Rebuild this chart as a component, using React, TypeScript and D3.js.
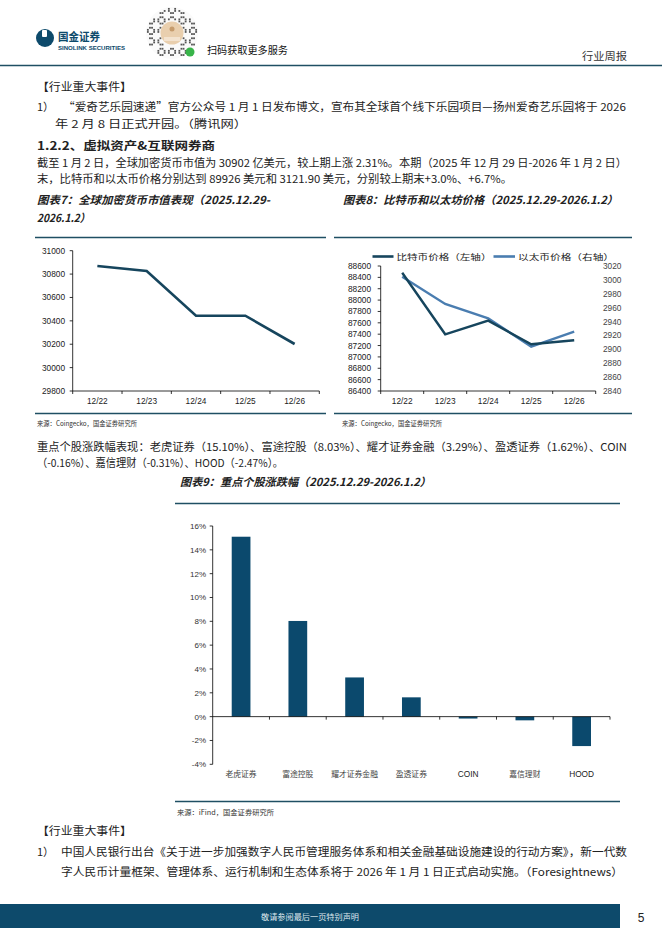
import React from "react";
import * as d3 from "d3";

// ---------- data ----------
const dates = ["12/22", "12/23", "12/24", "12/25", "12/26"];
const marketCap = [30869, 30826, 30444, 30444, 30202];
const capTicks = [29800, 30000, 30200, 30400, 30600, 30800, 31000];

const btcPrice = [88482, 87398, 87638, 87222, 87292];
const ethPrice = [3004.6, 2965.3, 2944.6, 2904.0, 2925.4];
const btcTicks = [86400, 86600, 86800, 87000, 87200, 87400, 87600, 87800, 88000, 88200, 88400, 88600];
const ethTicks = [2840, 2860, 2880, 2900, 2920, 2940, 2960, 2980, 3000, 3020];
const seriesNames = ["比特币价格（左轴）", "以太币价格（右轴）"];

const stocks = ["老虎证券", "富途控股", "耀才证券金融", "盈透证券", "COIN", "嘉信理财", "HOOD"];
const stockChange = [15.1, 8.03, 3.29, 1.62, -0.16, -0.31, -2.47];
const pctTicks = [-4, -2, 0, 2, 4, 6, 8, 10, 12, 14, 16];

// ---------- styles ----------
const CJK = "'Noto Sans CJK SC', 'Noto Sans', sans-serif";
const SANS = "'Liberation Sans', Arial, sans-serif";
const DARK = "#0d4a6b";
const RULE = "#1f4f63";
const TEXT = "#222";

type TP = {
  x: number;
  y: number;
  w?: number;
  size?: number;
  bold?: boolean;
  italic?: boolean;
  fill?: string;
  anchor?: "start" | "middle" | "end";
  family?: string;
  children: React.ReactNode;
};
const T = ({ x, y, w, size = 11, bold, italic, fill = TEXT, anchor = "start", family = CJK, children }: TP) => (
  <text
    x={x}
    y={y}
    fontSize={size}
    fontFamily={family}
    fontWeight={bold ? 700 : 400}
    fontStyle={italic ? "italic" : "normal"}
    fill={fill}
    textAnchor={anchor}
    {...(w ? { textLength: w, lengthAdjust: "spacingAndGlyphs" } : {})}
  >
    {children}
  </text>
);

// deterministic decorative QR pattern
const qrCells: { x: number; y: number }[] = [];
for (let i = 0; i < 24; i++) {
  for (let j = 0; j < 24; j++) {
    const cx = 172 + (i - 11.5) * 2.1;
    const cy = 33 + (j - 11.5) * 2.1;
    const r = Math.hypot(cx - 172, cy - 33);
    if (r < 25 && r > 12 && ((i * 7 + j * 11 + i * j) % 5 < 2)) qrCells.push({ x: cx, y: cy });
  }
}

function Chart7() {
  const x = d3.scaleBand<string>().domain(dates).range([72.7, 319.3]);
  const y = d3.scaleLinear().domain([29800, 31000]).range([391, 250.7]);
  const line = d3
    .line<number>()
    .x((_, i) => (x(dates[i]) as number) + x.bandwidth() / 2)
    .y((d) => y(d));
  const bounds = [...dates.map((d) => x(d) as number), 319.3];
  return (
    <g>
      <line x1={72.7} x2={72.7} y1={250.7} y2={391} stroke="#000" strokeWidth={0.8} />
      {capTicks.map((t) => (
        <g key={t}>
          <line x1={69.7} x2={72.7} y1={y(t)} y2={y(t)} stroke="#000" strokeWidth={0.8} />
          <T x={65} y={y(t) + 3} size={8.3} family={SANS} anchor="end">{t}</T>
        </g>
      ))}
      <line x1={72.7} x2={319.3} y1={391} y2={391} stroke="#000" strokeWidth={0.8} />
      {bounds.map((b, i) => (
        <line key={i} x1={b} x2={b} y1={391} y2={394} stroke="#000" strokeWidth={0.8} />
      ))}
      {dates.map((d) => (
        <T key={d} x={(x(d) as number) + x.bandwidth() / 2} y={404} size={8.3} family={SANS} anchor="middle">{d}</T>
      ))}
      <path d={line(marketCap) as string} fill="none" stroke="#16455d" strokeWidth={2.6} />
    </g>
  );
}

function Chart8() {
  const x = d3.scaleBand<string>().domain(dates).range([380.7, 595.7]);
  const yL = d3.scaleLinear().domain([86400, 88600]).range([391, 266]);
  const yR = d3.scaleLinear().domain([2840, 3020]).range([391, 266]);
  const cx = (i: number) => (x(dates[i]) as number) + x.bandwidth() / 2;
  const lineL = d3.line<number>().x((_, i) => cx(i)).y((d) => yL(d));
  const lineR = d3.line<number>().x((_, i) => cx(i)).y((d) => yR(d));
  const bounds = [...dates.map((d) => x(d) as number), 595.7];
  return (
    <g>
      <line x1={380.7} x2={380.7} y1={266} y2={391} stroke="#000" strokeWidth={0.8} />
      {btcTicks.map((t) => (
        <g key={t}>
          <line x1={377.7} x2={380.7} y1={yL(t)} y2={yL(t)} stroke="#000" strokeWidth={0.8} />
          <T x={371} y={yL(t) + 3} size={8.3} family={SANS} anchor="end">{t}</T>
        </g>
      ))}
      {ethTicks.map((t) => (
        <T key={t} x={603} y={yR(t) + 3} size={8.3} family={SANS} fill="#444">{t}</T>
      ))}
      <line x1={380.7} x2={595.7} y1={391} y2={391} stroke="#000" strokeWidth={0.8} />
      {bounds.map((b, i) => (
        <line key={i} x1={b} x2={b} y1={391} y2={394} stroke="#000" strokeWidth={0.8} />
      ))}
      {dates.map((d) => (
        <T key={d} x={(x(d) as number) + x.bandwidth() / 2} y={404} size={8.3} family={SANS} anchor="middle">{d}</T>
      ))}
      <path d={lineR(ethPrice) as string} fill="none" stroke="#4a7db0" strokeWidth={2.4} />
      <path d={lineL(btcPrice) as string} fill="none" stroke="#16455d" strokeWidth={2.4} />
      {/* legend */}
      <line x1={372.5} x2={393.5} y1={256.5} y2={256.5} stroke="#16455d" strokeWidth={2.6} />
      <T x={396.5} y={259.5} size={8.3} w={95}>{seriesNames[0]}</T>
      <line x1={493.5} x2={515} y1={256.5} y2={256.5} stroke="#4a7db0" strokeWidth={2.6} />
      <T x={518} y={259.5} size={8.3} w={96}>{seriesNames[1]}</T>
    </g>
  );
}

function Chart9() {
  const x = d3.scaleBand<string>().domain(stocks).range([212.7, 610]);
  const y = d3.scaleLinear().domain([-4, 16]).range([764.3, 526]);
  const bw = x.bandwidth() * 0.33;
  const bounds = [...stocks.map((d) => x(d) as number).slice(1), 610];
  return (
    <g>
      <line x1={212.7} x2={212.7} y1={526} y2={764.3} stroke="#000" strokeWidth={0.8} />
      {pctTicks.map((t) => (
        <g key={t}>
          <line x1={209.7} x2={212.7} y1={y(t)} y2={y(t)} stroke="#000" strokeWidth={0.8} />
          <T x={206} y={y(t) + 3} size={8} family={SANS} anchor="end" fill="#333">{`${t}%`}</T>
        </g>
      ))}
      {stockChange.map((v, i) => {
        const s = stocks[i];
        const cx = (x(s) as number) + x.bandwidth() / 2;
        return (
          <rect key={s} x={cx - bw / 2} y={Math.min(y(v), y(0))} width={bw} height={Math.abs(y(v) - y(0))} fill="#0b496d" />
        );
      })}
      <line x1={212.7} x2={610} y1={y(0)} y2={y(0)} stroke="#000" strokeWidth={0.8} />
      {bounds.map((b, i) => (
        <line key={i} x1={b} x2={b} y1={y(0)} y2={y(0) + 3} stroke="#000" strokeWidth={0.8} />
      ))}
      {stocks.map((s) => {
        const ascii = /^[A-Z]+$/.test(s);
        return (
          <T key={s} x={(x(s) as number) + x.bandwidth() / 2} y={777} size={ascii ? 8.3 : 7.8} family={ascii ? SANS : CJK} anchor="middle" fill={ascii ? "#222" : "#444"}>
            {s}
          </T>
        );
      })}
    </g>
  );
}

export default function App() {
  return (
    <div style={{ position: "absolute", left: 0, top: 0 }}>
      <svg width={662} height={936} viewBox="0 0 662 936" style={{ display: "block", background: "#fff" }}>
        <rect width={662} height={936} fill="#fff" />
        {/* header */}
        <circle cx={45} cy={38} r={9} fill={DARK} />
        <rect x={42} y={30} width={5} height={7} fill="#fff" rx={1} />
        <T x={58} y={40.5} size={11.5} bold fill={DARK} w={42}>国金证券</T>
        <T x={58} y={49.5} size={5} bold fill={DARK} family={SANS} w={67}>SINOLINK SECURITIES</T>
        <circle cx={172} cy={33} r={26} fill="#fafafa" />
        {qrCells.map((c, i) => (
          <rect key={i} x={c.x - 0.9} y={c.y - 0.9} width={1.8} height={1.8} fill="#555" />
        ))}
        <circle cx={172} cy={33} r={11.5} fill="#e9cfae" />
        <circle cx={172} cy={29} r={2.5} fill="#c69c6d" />
        <rect x={164} y={37} width={16} height={4} fill="#f3e3cf" />
        <circle cx={190} cy={52} r={4.5} fill="#38b449" />
        <T x={207} y={54} size={10} fill="#111" w={81}>扫码获取更多服务</T>
        <T x={582} y={60} size={10} fill="#333" w={45}>行业周报</T>
        <line x1={0} x2={662} y1={65.5} y2={65.5} stroke={RULE} strokeWidth={1.4} />

        {/* text block 1 */}
        <T x={37} y={91} w={95}>【行业重大事件】</T>
        <T x={37} y={111}>1）</T>
        <T x={63} y={111} w={563}>“爱奇艺乐园速递”官方公众号 1 月 1 日发布博文，宣布其全球首个线下乐园项目—扬州爱奇艺乐园将于  2026</T>
        <T x={55} y={128} w={192}>年 2 月 8 日正式开园。（腾讯网）</T>
        <T x={37} y={150} size={11.5} bold w={178}>1.2.2、虚拟资产&amp;互联网券商</T>
        <T x={37} y={167} w={590}>截至 1 月 2 日，全球加密货币市值为 30902 亿美元，较上期上涨 2.31%。本期（2025 年 12 月 29 日-2026 年 1 月 2 日）</T>
        <T x={37} y={183} w={475}>末，比特币和以太币价格分别达到 89926 美元和 3121.90 美元，分别较上期末+3.0%、+6.7%。</T>

        {/* chart titles */}
        <T x={37} y={204} size={11} bold italic w={233}>图表7：全球加密货币市值表现（2025.12.29-</T>
        <T x={37} y={222} size={11} bold italic w={53}>2026.1.2）</T>
        <T x={343} y={204} size={11} bold italic w={275}>图表8：比特币和以太坊价格（2025.12.29-2026.1.2）</T>
        <line x1={35} x2={326} y1={237.5} y2={237.5} stroke={RULE} strokeWidth={1.4} />
        <line x1={334} x2={632} y1={237.5} y2={237.5} stroke={RULE} strokeWidth={1.4} />
        <Chart7 />
        <Chart8 />
        <line x1={35} x2={326} y1={413.5} y2={413.5} stroke={RULE} strokeWidth={1.4} />
        <line x1={334} x2={632} y1={413.5} y2={413.5} stroke={RULE} strokeWidth={1.4} />
        <T x={37} y={426} size={7} fill="#333" w={100}>来源：Coingecko，国金证券研究所</T>
        <T x={342} y={426} size={7} fill="#333" w={100}>来源：Coingecko，国金证券研究所</T>

        {/* text block 2 */}
        <T x={37} y={451} w={590}>重点个股涨跌幅表现：老虎证券（15.10%）、富途控股（8.03%）、耀才证券金融（3.29%）、盈透证券（1.62%）、COIN</T>
        <T x={37} y={467} w={246}>（-0.16%）、嘉信理财（-0.31%）、HOOD（-2.47%）。</T>

        <T x={180} y={486} size={11} bold italic w={251}>图表9：重点个股涨跌幅（2025.12.29-2026.1.2）</T>
        <line x1={175} x2={620} y1={503.5} y2={503.5} stroke={RULE} strokeWidth={1.4} />
        <Chart9 />
        <line x1={175} x2={620} y1={801.5} y2={801.5} stroke={RULE} strokeWidth={1.4} />
        <T x={177} y={815} size={7} fill="#333" w={97}>来源：iFind，国金证券研究所</T>

        {/* text block 3 */}
        <T x={37} y={835} w={95}>【行业重大事件】</T>
        <T x={37} y={856}>1）</T>
        <T x={61} y={856} w={566}>中国人民银行出台《关于进一步加强数字人民币管理服务体系和相关金融基础设施建设的行动方案》，新一代数</T>
        <T x={61} y={876} w={562}>字人民币计量框架、管理体系、运行机制和生态体系将于 2026 年 1 月 1 日正式启动实施。（Foresightnews）</T>

        {/* footer */}
        <rect x={0} y={904} width={620} height={24} fill={DARK} />
        <T x={310} y={920} size={8} fill="#dfe8ee" anchor="middle" w={98}>敬请参阅最后一页特别声明</T>
        <T x={641} y={922} size={12} family={SANS} fill="#222" anchor="middle">5</T>
      </svg>
    </div>
  );
}
